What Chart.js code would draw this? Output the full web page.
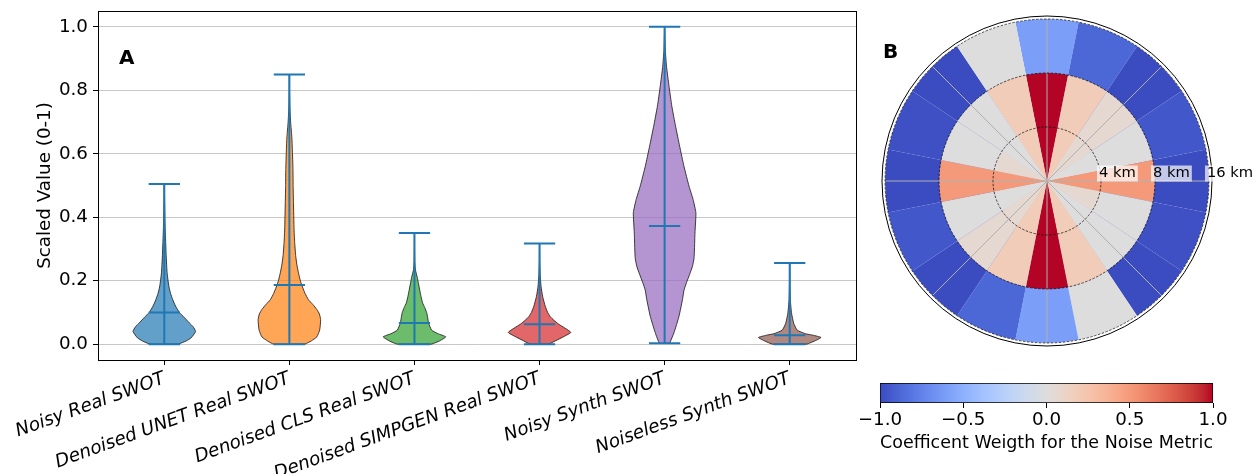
<!DOCTYPE html>
<html>
<head>
<meta charset="utf-8">
<title>Violins and noise weights</title>
<script src="https://cdn.jsdelivr.net/npm/chart.js@4.4.1/dist/chart.umd.min.js"></script>
<style>
  html, body { margin: 0; padding: 0; background: #fff; }
  #wrap { position: relative; width: 1254px; height: 474px; overflow: hidden; }
  canvas { position: absolute; }
  #violins { left: 0; top: 0; }
  #polar { left: 870px; top: 0; }
  #cbar { left: 860px; top: 370px; }
</style>
</head>
<body>
<div id="wrap">
  <canvas id="violins" width="870" height="474"></canvas>
  <canvas id="polar" width="384" height="370"></canvas>
  <canvas id="cbar" width="394" height="104"></canvas>
</div>
<script>
// --- panel A data ---
const categories = ['Noisy Real SWOT', 'Denoised UNET Real SWOT', 'Denoised CLS Real SWOT',
                    'Denoised SIMPGEN Real SWOT', 'Noisy Synth SWOT', 'Noiseless Synth SWOT'];
const minima  = [0, 0, 0, 0, 0.003, 0];
const medians = [0.10, 0.186, 0.067, 0.063, 0.372, 0.028];
const maxima  = [0.505, 0.85, 0.35, 0.317, 1.0, 0.256];
const yTicks  = [0, 0.2, 0.4, 0.6, 0.8, 1.0];

// violin outlines: [value, relative half width]
const shapeNoisyReal = [[0,0.45],[0.01,0.7],[0.02,0.86],[0.04,1.0],[0.055,0.92],[0.067,0.8],[0.085,0.63],
  [0.10,0.48],[0.12,0.36],[0.14,0.27],[0.16,0.2],[0.18,0.15],[0.2,0.12],[0.225,0.09],[0.25,0.075],
  [0.28,0.06],[0.32,0.045],[0.36,0.03],[0.4,0.02],[0.45,0.01],[0.505,0.003]];
const shapeUnetReal = [[0,0.5],[0.01,0.7],[0.023,0.88],[0.045,0.97],[0.077,1.0],[0.095,0.96],[0.109,0.88],
  [0.125,0.75],[0.14,0.61],[0.16,0.5],[0.18,0.42],[0.2,0.35],[0.225,0.29],[0.25,0.24],[0.28,0.2],
  [0.32,0.17],[0.36,0.15],[0.45,0.13],[0.5,0.12],[0.55,0.115],[0.6,0.1],[0.65,0.08],[0.7,0.04],
  [0.75,0.015],[0.8,0.005],[0.85,0.002]];
const shapeClsReal = [[0,0.55],[0.01,0.8],[0.023,1.0],[0.033,0.75],[0.044,0.55],[0.067,0.45],[0.085,0.42],
  [0.1,0.39],[0.115,0.33],[0.13,0.26],[0.15,0.21],[0.17,0.17],[0.19,0.13],[0.21,0.09],[0.235,0.03],
  [0.26,0.01],[0.3,0.003],[0.35,0.001]];
const shapeSimpgenReal = [[0,0.3],[0.01,0.5],[0.025,0.8],[0.037,1.0],[0.05,0.82],[0.063,0.61],[0.075,0.46],
  [0.087,0.34],[0.1,0.26],[0.12,0.18],[0.15,0.1],[0.18,0.05],[0.22,0.02],[0.26,0.005],[0.317,0.001]];
const shapeNoisySynth = [[0.003,0.16],[0.036,0.3],[0.088,0.46],[0.14,0.57],[0.17,0.62],[0.194,0.7],
  [0.22,0.8],[0.245,0.89],[0.27,0.94],[0.3,0.955],[0.35,0.97],[0.414,1.0],[0.456,0.91],[0.498,0.78],
  [0.56,0.62],[0.624,0.48],[0.687,0.35],[0.75,0.23],[0.813,0.14],[0.876,0.06],[0.93,0.02],[1.0,0.002]];
const shapeNoiselessSynth = [[0,0.55],[0.01,0.8],[0.021,1.0],[0.028,0.75],[0.033,0.5],[0.044,0.24],
  [0.065,0.13],[0.097,0.06],[0.14,0.02],[0.2,0.005],[0.256,0.001]];
const shapes = [shapeNoisyReal, shapeUnetReal, shapeClsReal, shapeSimpgenReal, shapeNoisySynth, shapeNoiselessSynth];

// --- panel B data: weights per sector, clockwise from north ---
const sectorAngles = [0, 22.5, 45, 67.5, 90, 112.5, 135, 157.5, 180, 202.5, 225, 247.5, 270, 292.5, 315, 337.5];
const ringLabels = ['4 km', '8 km', '16 km'];
const weightsInner = [1, 0.19, 0.06, 0, 0.5, 0.06, 0, 0.19, 1, 0.19, 0.06, 0, 0.5, 0.06, 0, 0.19];
const weightsMid   = [1, 0.19, 0.06, 0, 0.5, 0, 0, 0.19, 1, 0.19, 0.06, 0, 0.5, 0, 0, 0.19];
const weightsOuter = [-0.6, -0.88, -1, -0.95, -1, -0.98, -1, 0, -0.6, -0.88, -1, -0.95, -1, -0.98, -1, 0];
const colorbarTicks = [-1, -0.5, 0, 0.5, 1];

// styling
const violinColors = ['31,119,180', '255,127,14', '44,160,44', '214,39,40', '148,103,189', '140,86,75'];
const HALF = 0.25;  // max half width of a violin (x units)
const CAP = 0.125;  // half length of the min/max/median bars
const FONT = "'DejaVu Sans', sans-serif";

// coolwarm colormap (33 samples)
const coolwarm = [[59,76,192],[68,90,204],[77,104,215],[87,117,225],[98,130,234],[108,142,241],[119,154,247],
  [130,165,251],[141,176,254],[152,185,255],[163,194,255],[174,201,253],[184,208,249],[194,213,244],
  [204,217,238],[213,219,230],[221,221,221],[229,216,209],[236,211,197],[241,204,184],[245,196,172],
  [247,187,160],[247,177,148],[247,166,135],[244,154,123],[241,141,111],[236,127,99],[229,112,88],
  [222,96,77],[213,80,66],[203,62,56],[192,40,47],[180,4,38]];

function weightColor(w) {
  const s = Math.min(Math.max((w + 1) / 2, 0), 1) * 32;
  const i = Math.min(Math.floor(s), 31), f = s - i;
  const a = coolwarm[i], b = coolwarm[i + 1];
  const c = a.map((v, k) => Math.round(v + (b[k] - v) * f));
  return `rgb(${c[0]},${c[1]},${c[2]})`;
}

Chart.defaults.font.family = FONT;
Chart.defaults.font.size = 18.3;
Chart.defaults.color = '#000';

// ---------------- Panel A: violins ----------------
function violinOutline(pos, shape) {
  const right = shape.map(([v, w]) => ({ x: pos + w * HALF, y: v }));
  const left = shape.slice().reverse().map(([v, w]) => ({ x: pos - w * HALF, y: v }));
  return right.concat(left, [right[0]]);
}

function barLines(pos, i) {
  return [
    { x: pos - CAP, y: minima[i] }, { x: pos + CAP, y: minima[i] }, { x: pos, y: null },
    { x: pos - CAP, y: maxima[i] }, { x: pos + CAP, y: maxima[i] }, { x: pos, y: null },
    { x: pos, y: minima[i] }, { x: pos, y: maxima[i] }, { x: pos, y: null },
    { x: pos - CAP, y: medians[i] }, { x: pos + CAP, y: medians[i] }
  ];
}

const violinSets = categories.map((name, i) => ({
  label: name,
  data: violinOutline(i + 1, shapes[i]),
  showLine: true,
  fill: 'shape',
  backgroundColor: `rgba(${violinColors[i]},0.7)`,
  borderColor: 'rgba(30,30,30,0.85)',
  borderWidth: 1,
  tension: 0.15,
  pointRadius: 0,
  order: 2
}));

const lineSets = categories.map((name, i) => ({
  label: name + ' stats',
  data: barLines(i + 1, i),
  showLine: true,
  fill: false,
  spanGaps: false,
  borderColor: '#1f77b4',
  borderWidth: 2,
  tension: 0,
  pointRadius: 0,
  order: 1
}));

const frame = {
  id: 'frame',
  afterDraw(chart) {
    const { ctx, chartArea: a } = chart;
    ctx.save();
    ctx.strokeStyle = '#000';
    ctx.lineWidth = 1;
    ctx.strokeRect(Math.round(a.left) + 0.5, Math.round(a.top) + 0.5,
                   Math.round(a.right - a.left), Math.round(a.bottom - a.top));
    ctx.font = 'bold 20px ' + FONT;
    ctx.fillStyle = '#000';
    ctx.textBaseline = 'middle';
    ctx.fillText('A', a.left + 21, a.top + 48);
    ctx.restore();
  }
};

new Chart(document.getElementById('violins'), {
  type: 'scatter',
  data: { datasets: violinSets.concat(lineSets) },
  options: {
    responsive: false,
    animation: false,
    events: [],
    layout: { padding: { top: 11, right: 14, left: 0, bottom: 0 } },
    plugins: { legend: { display: false }, tooltip: { enabled: false } },
    scales: {
      x: {
        type: 'linear', min: 0.47, max: 6.53,
        afterBuildTicks: s => { s.ticks = categories.map((c, i) => ({ value: i + 1 })); },
        afterFit: s => { s.height = 114; s.paddingLeft = 0; s.paddingRight = 0; },
        ticks: {
          autoSkip: false, minRotation: 20, maxRotation: 20, padding: 3,
          font: { style: 'italic' },
          callback: v => categories[Math.round(v) - 1]
        },
        grid: { drawOnChartArea: false, tickLength: 5, color: '#000', tickColor: '#000' },
        border: { color: '#000' }
      },
      y: {
        min: -0.05, max: 1.05,
        afterBuildTicks: s => { s.ticks = yTicks.map(v => ({ value: v })); },
        afterFit: s => { s.width = 98; s.paddingTop = 0; s.paddingBottom = 0; },
        ticks: { padding: 5, callback: v => v.toFixed(1) },
        grid: { color: '#c8c8c8', lineWidth: 1, tickLength: 5, tickColor: '#000' },
        border: { color: '#000' },
        title: { display: true, text: 'Scaled Value (0-1)', padding: { top: 34, bottom: 0 } }
      }
    }
  },
  plugins: [frame]
});

// ---------------- Panel B: polar weights ----------------
const polarDecor = {
  id: 'polarDecor',
  afterDraw(chart) {
    const { ctx, chartArea: a } = chart;
    const r = chart.scales.r;
    const cx = r.xCenter, cy = r.yCenter;
    const outer = r.getDistanceFromCenterForValue(3);
    ctx.save();
    // theta grid every 45 degrees
    ctx.strokeStyle = '#b0b0b0';
    ctx.lineWidth = 1;
    for (let deg = 0; deg < 360; deg += 45) {
      const t = deg * Math.PI / 180;
      ctx.beginPath();
      ctx.moveTo(cx, cy);
      ctx.lineTo(cx + outer * Math.sin(t), cy - outer * Math.cos(t));
      ctx.stroke();
    }
    // dashed radial grid at each ring
    ctx.strokeStyle = 'rgba(0,0,0,0.85)';
    ctx.lineWidth = 0.8;
    ctx.setLineDash([2.5, 1.5]);
    ringLabels.forEach((txt, i) => {
      ctx.beginPath();
      ctx.arc(cx, cy, r.getDistanceFromCenterForValue(i + 1), 0, Math.PI * 2);
      ctx.stroke();
    });
    ctx.setLineDash([]);
    // spine
    ctx.strokeStyle = '#000';
    ctx.lineWidth = 1;
    ctx.beginPath();
    ctx.arc(cx, cy, r.drawingArea, 0, Math.PI * 2);
    ctx.stroke();
    // ring labels along east
    ctx.font = '14.7px ' + FONT;
    ctx.textBaseline = 'middle';
    ctx.textAlign = 'left';
    ringLabels.forEach((txt, i) => {
      const d = r.getDistanceFromCenterForValue(i + 1);
      const x = cx + d - 2, y = cy - 7.5;
      const w = ctx.measureText(txt).width;
      ctx.fillStyle = 'rgba(255,255,255,0.7)';
      ctx.fillRect(x - 2, y - 8, w + 4, 16);
      ctx.fillStyle = '#000';
      ctx.fillText(txt, x, y);
    });
    ctx.font = 'bold 20px ' + FONT;
    ctx.fillText('B', a.left + 1, 52.5);
    ctx.restore();
  }
};

const ringWeights = [weightsInner, weightsMid, weightsOuter];

new Chart(document.getElementById('polar'), {
  type: 'polarArea',
  data: {
    labels: sectorAngles.map(a => a + '°'),
    datasets: ringWeights.map((w, i) => ({
      label: ringLabels[i],
      data: sectorAngles.map(() => i + 1),
      backgroundColor: w.map(weightColor),
      borderWidth: 0
    }))
  },
  options: {
    responsive: false,
    animation: false,
    events: [],
    layout: { padding: { left: 12, right: 42, top: 16, bottom: 24 } },
    plugins: { legend: { display: false }, tooltip: { enabled: false } },
    scales: {
      r: {
        min: 0, max: 3.056, startAngle: -11.25,
        afterBuildTicks: s => { s.ticks = [0, 1, 2, 3].map(v => ({ value: v })); },
        ticks: { display: false },
        angleLines: { display: false },
        pointLabels: { display: false },
        grid: { display: false }
      }
    }
  },
  plugins: [polarDecor]
});

// ---------------- Colorbar ----------------
new Chart(document.getElementById('cbar'), {
  type: 'bar',
  data: {
    labels: ['weight'],
    datasets: [{
      data: [[colorbarTicks[0], colorbarTicks[colorbarTicks.length - 1]]],
      backgroundColor: c => {
        const area = c.chart.chartArea;
        if (!area) return '#ddd';
        const g = c.chart.ctx.createLinearGradient(area.left, 0, area.right, 0);
        coolwarm.forEach((rgb, k) => g.addColorStop(k / 32, `rgb(${rgb[0]},${rgb[1]},${rgb[2]})`));
        return g;
      },
      borderColor: '#000',
      borderWidth: 1,
      borderSkipped: false,
      barPercentage: 1,
      categoryPercentage: 1
    }]
  },
  options: {
    indexAxis: 'y',
    responsive: false,
    animation: false,
    events: [],
    layout: { padding: { left: 20, right: 41, top: 13, bottom: 20 } },
    plugins: { legend: { display: false }, tooltip: { enabled: false } },
    scales: {
      y: { display: false },
      x: {
        type: 'linear', min: -1, max: 1,
        afterBuildTicks: s => { s.ticks = colorbarTicks.map(v => ({ value: v })); },
        afterFit: s => { s.height = 51; s.paddingLeft = 0; s.paddingRight = 0; },
        ticks: { padding: 1, callback: v => (v < 0 ? '\u2212' : '') + Math.abs(v).toFixed(1) },
        grid: { drawOnChartArea: false, tickLength: 5, color: '#000', tickColor: '#000' },
        border: { display: false },
        title: { display: true, text: 'Coefficent Weigth for the Noise Metric', padding: { top: 0, bottom: 0 } }
      }
    }
  }
});
</script>
</body>
</html>
